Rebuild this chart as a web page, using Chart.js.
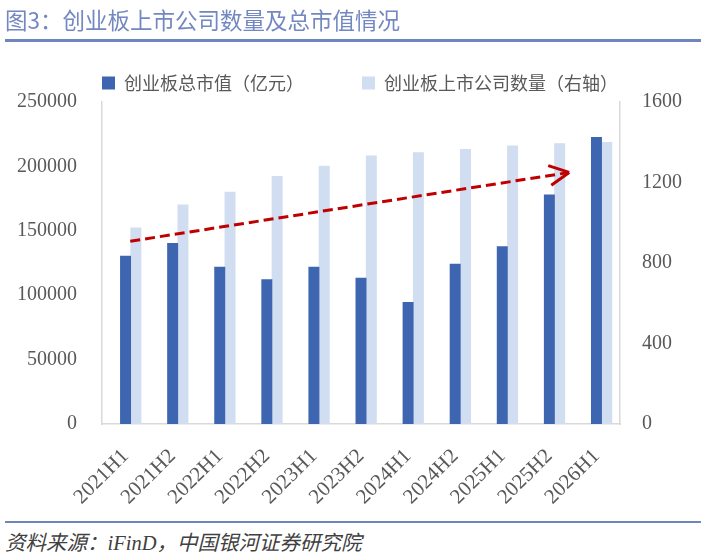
<!DOCTYPE html>
<html>
<head>
<meta charset="utf-8">
<title>创业板上市公司数量及总市值情况</title>
<script src="https://cdn.jsdelivr.net/npm/chart.js@4.4.1/dist/chart.umd.min.js"></script>
<style>
  html, body { margin: 0; padding: 0; background: #fff; }
  body { width: 706px; height: 560px; position: relative; overflow: hidden; }
  #title { position: absolute; left: 5px; top: 3px; font: 22.5px "Noto Sans CJK SC", sans-serif; color: #7388c2; line-height: 32px; white-space: nowrap; z-index: 2; }
  #topline { position: absolute; left: 5px; right: 5px; top: 39px; height: 3px; background: #6f86bd; }
  #wrap { position: absolute; left: 0; top: 0; width: 706px; height: 515px; }
  #botline { position: absolute; left: 5px; right: 5px; top: 521px; height: 2px; background: #6f86bd; }
  #source { position: absolute; left: 5px; top: 528px; font: italic 20.5px "Liberation Serif", "Noto Sans CJK SC", serif; color: #404040; line-height: 30px; white-space: nowrap; }
</style>
</head>
<body>
<div id="title">图3：创业板上市公司数量及总市值情况</div>
<div id="topline"></div>
<div id="wrap"><canvas id="chart"></canvas></div>
<div id="botline"></div>
<div id="source">资料来源：iFinD，中国银河证券研究院</div>
<script>
// data
const periods = ['2021H1', '2021H2', '2022H1', '2022H2', '2023H1', '2023H2', '2024H1', '2024H2', '2025H1', '2025H2', '2026H1'];
const marketCap = [130300, 140200, 121800, 112200, 121800, 113200, 94400, 124100, 137800, 177900, 222600];
const companyCount = [975, 1089, 1152, 1231, 1281, 1332, 1349, 1365, 1382, 1394, 1400];
const capTicks = [0, 50000, 100000, 150000, 200000, 250000];
const countTicks = [0, 400, 800, 1200, 1600];
// trend arrow, in category units along x and right-axis units along y
const trendX = [0.1, 9.42];
const trendY = [908, 1250];

const barWidth = 10.3;
// light bars sit one bar width right of the category centre
const lightShift = 0.219;

const tickFont = { family: '"Liberation Serif", serif', size: 20 };
const tickColor = '#595959';
const axisLine = { display: true, color: '#d9d9d9', width: 1.5 };

// solid head at the end of the dashed trend line
const arrowHead = {
    id: 'arrowHead',
    afterDatasetsDraw(chart) {
        const pts = chart.getDatasetMeta(2).data;
        const a = pts[pts.length - 2], b = pts[pts.length - 1];
        const ang = Math.atan2(b.y - a.y, b.x - a.x);
        const ctx = chart.ctx;
        ctx.save();
        ctx.strokeStyle = '#c00000';
        ctx.lineWidth = 3;
        ctx.beginPath();
        [-1, 1].forEach(s => {
            const t = ang + Math.PI + s * 0.47;
            ctx.moveTo(b.x + 22 * Math.cos(t), b.y + 22 * Math.sin(t));
            ctx.lineTo(b.x, b.y);
        });
        ctx.stroke();
        ctx.restore();
    }
};

const ctx = document.getElementById('chart').getContext('2d');
const chart = new Chart(ctx, {
    type: 'bar',
    data: {
        labels: periods,
        datasets: [{
            label: '创业板总市值（亿元）',
            data: marketCap,
            backgroundColor: '#3d65b0',
            xAxisID: 'x',
            yAxisID: 'y',
            grouped: false,
            barThickness: barWidth,
            order: 1
        }, {
            label: '创业板上市公司数量（右轴）',
            data: companyCount.map((v, i) => ({ x: i, y: v })),
            backgroundColor: '#d1ddf0',
            xAxisID: 'xl',
            yAxisID: 'y1',
            grouped: false,
            barThickness: barWidth,
            order: 2
        }, {
            type: 'line',
            label: 'trend',
            data: trendX.map((x, i) => ({ x: x, y: trendY[i] })),
            xAxisID: 'xt',
            yAxisID: 'y1',
            borderColor: '#c00000',
            borderWidth: 3,
            borderDash: [10, 5],
            pointRadius: 0,
            fill: false,
            order: 0
        }]
    },
    options: {
        responsive: true,
        maintainAspectRatio: false,
        animation: false,
        layout: { padding: { top: 9, left: 14, right: 0, bottom: 0 } },
        plugins: {
            tooltip: { enabled: false },
            legend: {
                position: 'top',
                labels: {
                    boxWidth: 13,
                    boxHeight: 13,
                    padding: 58,
                    color: tickColor,
                    font: { family: '"Noto Sans CJK SC", sans-serif', size: 18 },
                    filter: item => item.datasetIndex < 2,
                    sort: (a, b) => a.datasetIndex - b.datasetIndex
                }
            }
        },
        scales: {
            x: {
                type: 'category',
                offset: true,
                grid: { display: false, drawTicks: false },
                border: axisLine,
                ticks: {
                    color: tickColor,
                    font: { family: '"Liberation Serif", serif', size: 21 },
                    minRotation: 45,
                    maxRotation: 45,
                    padding: 20
                },
                afterFit: s => { s.height = 91; }
            },
            xl: {
                type: 'linear',
                display: false,
                offset: false,
                min: -0.5 - lightShift,
                max: periods.length - 0.5 - lightShift
            },
            xt: {
                type: 'linear',
                display: false,
                offset: false,
                min: -0.5,
                max: periods.length - 0.5
            },
            y: {
                position: 'left',
                min: 0,
                max: capTicks[capTicks.length - 1],
                grid: { display: false, drawTicks: false },
                border: axisLine,
                afterBuildTicks: s => { s.ticks = capTicks.map(v => ({ value: v })); },
                ticks: {
                    color: tickColor,
                    font: tickFont,
                    padding: 25,
                    callback: v => String(v)
                },
                afterFit: s => { s.width = 88; s.paddingTop = 102; }
            },
            y1: {
                position: 'right',
                min: 0,
                max: countTicks[countTicks.length - 1],
                grid: { display: false, drawTicks: false },
                border: axisLine,
                afterBuildTicks: s => { s.ticks = countTicks.map(v => ({ value: v })); },
                ticks: {
                    color: tickColor,
                    font: tickFont,
                    padding: 22,
                    callback: v => String(v)
                },
                afterFit: s => { s.width = 86; }
            }
        }
    },
    plugins: [arrowHead]
});
</script>
</body>
</html>
